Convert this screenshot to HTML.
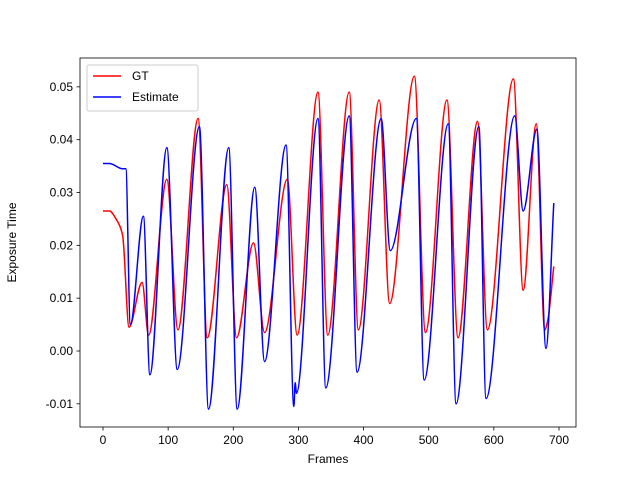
<!DOCTYPE html>
<html><head><meta charset="utf-8"><style>
body{margin:0;background:#fff}
svg text{font-family:"Liberation Sans","DejaVu Sans",sans-serif;font-size:12px;fill:#000}
</style></head><body>
<svg id="chart" width="640" height="480" viewBox="0 0 640 480" xmlns="http://www.w3.org/2000/svg">
<rect width="640" height="480" fill="#fff"/>
<g id="plot"></g>
</svg>
<script>
const xTicks=[0,100,200,300,400,500,600,700];
const yTicks=[-0.01,0,0.01,0.02,0.03,0.04,0.05];
const gtFrames=[0,10,20,30,40,60,70,98,115,146,160,190,205,231,248,283,298,330,345,378,392,424,440,478,495,528,545,575,590,630,645,665,678,683,692];
const gtValues=[0.0265,0.0265,0.025,0.022,0.0045,0.013,0.003,0.0325,0.004,0.044,0.0025,0.0315,0.0025,0.0205,0.0035,0.0325,0.003,0.049,0.003,0.049,0.004,0.0475,0.009,0.052,0.0035,0.0475,0.0025,0.0435,0.004,0.0515,0.0115,0.043,0.004,0.006,0.016];
const estFrames=[0,10,30,35,42,62,72,98,114,148,162,193,206,233,248,281,293,295,297,330,342,378,390,427,441,481,493,530,542,577,588,632,645,666,680,692];
const estValues=[0.0355,0.0355,0.0345,0.0345,0.005,0.0255,-0.0045,0.0385,-0.0035,0.0425,-0.011,0.0385,-0.011,0.031,-0.002,0.039,-0.0105,-0.006,-0.008,0.044,-0.007,0.0445,-0.004,0.044,0.019,0.044,-0.0055,0.043,-0.010,0.0425,-0.009,0.0445,0.0265,0.042,0.0005,0.028];

const L=80,R=576,T=58,B=427;
const xs=f=>103+f*(456/700);
const ys=v=>351-v*5283;
const NS="http://www.w3.org/2000/svg";
const g=document.getElementById('plot');
function mk(tag,attrs){const e=document.createElementNS(NS,tag);for(const k in attrs)e.setAttribute(k,attrs[k]);g.appendChild(e);return e;}

function pathFor(fr,vals){
  const px=fr.map(xs),py=vals.map(ys),n=px.length,m=[];
  for(let i=0;i<n;i++){
    if(i==0||i==n-1){const j=i==0?1:n-1;m.push((py[j]-py[j-1])/(px[j]-px[j-1]));continue;}
    const d0=(py[i]-py[i-1])/(px[i]-px[i-1]),d1=(py[i+1]-py[i])/(px[i+1]-px[i]);
    m.push(d0*d1<=0?0:2/(1/d0+1/d1));
  }
  let d=`M${px[0]},${py[0]}`;
  for(let i=0;i<n-1;i++){const h=(px[i+1]-px[i])/3;
    d+=` C${px[i]+h},${py[i]+m[i]*h} ${px[i+1]-h},${py[i+1]-m[i+1]*h} ${px[i+1]},${py[i+1]}`;}
  return d;
}
const gt=mk('path',{d:pathFor(gtFrames,gtValues),fill:'none',stroke:'#ff0000','stroke-width':1.5});


const est=mk('path',{d:pathFor(estFrames,estValues),fill:'none',stroke:'#0000ff','stroke-width':1.5});



const frame=mk('rect',{x:L,y:T,width:R-L,height:B-T,fill:'none',stroke:'#000','stroke-width':0.8});



xTicks.forEach(t=>{const x=xs(t);
  mk('line',{x1:x,x2:x,y1:B,y2:B+3.5,stroke:'#000','stroke-width':0.8});
  const tx=mk('text',{x:x,y:B+17,'text-anchor':'middle'});tx.textContent=t;
  
  
});
yTicks.forEach(t=>{const y=ys(t);
  mk('line',{x1:L-3.5,x2:L,y1:y,y2:y,stroke:'#000','stroke-width':0.8});
  const tx=mk('text',{x:L-7,y:y+4,'text-anchor':'end'});tx.textContent=t.toFixed(2);
  
  
});
const xl=mk('text',{x:(L+R)/2,y:463,'text-anchor':'middle'});xl.textContent='Frames';


const yl=mk('text',{x:0,y:0,'text-anchor':'middle',transform:`translate(16,${(T+B)/2}) rotate(-90)`});yl.textContent='Exposure Time';



const lg=mk('rect',{x:87,y:65,width:111,height:46,rx:2,fill:'#fff','fill-opacity':0.8,stroke:'#ccc'});


[['GT','#ff0000',76],['Estimate','#0000ff',97]].forEach(([n,c,y])=>{
  mk('line',{x1:93,x2:121,y1:y,y2:y,stroke:c,'stroke-width':1.5});
  const t=mk('text',{x:132,y:y+4});t.textContent=n;
  
  
});
</script>
</body></html>
